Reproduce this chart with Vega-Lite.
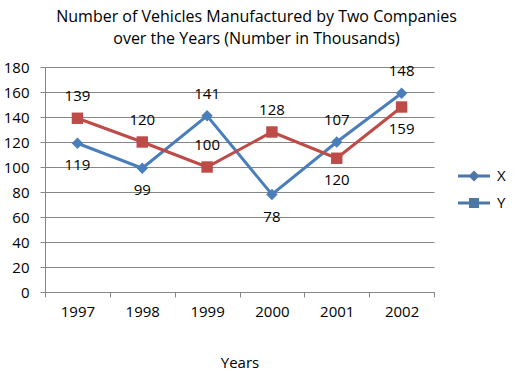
{
  "$schema": "https://vega.github.io/schema/vega-lite/v6.json",
  "width": 389,
  "height": 225,
  "autosize": {"type": "none"},
  "padding": {"left": 45, "top": 67, "right": 82, "bottom": 90},
  "background": "white",
  "config": {
    "font": "Open Sans",
    "view": {"stroke": null},
    "title": {"fontSize": 16, "fontWeight": "normal", "color": "#000000", "lineHeight": 22, "font": "Open Sans"}
  },
  "title": {
    "text": ["Number of Vehicles Manufactured by Two Companies", "over the Years (Number in Thousands)"],
    "anchor": "middle",
    "dx": 17,
    "offset": 13
  },
  "datasets": {
    "series": [
      {"year": "1997", "company": "X", "value": 119},
      {"year": "1998", "company": "X", "value": 99},
      {"year": "1999", "company": "X", "value": 141},
      {"year": "2000", "company": "X", "value": 78},
      {"year": "2001", "company": "X", "value": 120},
      {"year": "2002", "company": "X", "value": 159},
      {"year": "1997", "company": "Y", "value": 139},
      {"year": "1998", "company": "Y", "value": 120},
      {"year": "1999", "company": "Y", "value": 100},
      {"year": "2000", "company": "Y", "value": 128},
      {"year": "2001", "company": "Y", "value": 107},
      {"year": "2002", "company": "Y", "value": 148}
    ],
    "labels": [
      {"year": "1997", "label": "139", "value": 139, "pos": "above"},
      {"year": "1997", "label": "119", "value": 119, "pos": "below"},
      {"year": "1998", "label": "120", "value": 120, "pos": "above"},
      {"year": "1998", "label": "99", "value": 99, "pos": "below"},
      {"year": "1999", "label": "141", "value": 141, "pos": "above"},
      {"year": "1999", "label": "100", "value": 100, "pos": "above"},
      {"year": "2000", "label": "128", "value": 128, "pos": "above"},
      {"year": "2000", "label": "78", "value": 78, "pos": "below"},
      {"year": "2001", "label": "107", "value": 120, "pos": "above"},
      {"year": "2001", "label": "120", "value": 107, "pos": "below"},
      {"year": "2002", "label": "148", "value": 159, "pos": "above"},
      {"year": "2002", "label": "159", "value": 148, "pos": "below"}
    ]
  },
  "encoding": {
    "x": {
      "field": "year",
      "type": "ordinal",
      "scale": {"paddingInner": 0, "paddingOuter": 0},
      "axis": {
        "title": "Years",
        "labelAngle": 0,
        "labelFontSize": 15,
        "labelColor": "#000000",
        "labelPadding": 7,
        "tickBand": "extent",
        "tickSize": 5,
        "tickColor": "#868686",
        "domainColor": "#868686",
        "titleFontSize": 15,
        "titleFontWeight": "normal",
        "titleColor": "#000000",
        "titlePadding": 36,
        "grid": false
      }
    },
    "y": {
      "field": "value",
      "type": "quantitative",
      "scale": {"domain": [0, 180], "nice": false},
      "axis": {
        "title": null,
        "values": [0, 20, 40, 60, 80, 100, 120, 140, 160, 180],
        "tickCount": 10,
        "labelOverlap": false,
        "labelFontSize": 15,
        "labelColor": "#000000",
        "labelPadding": 11,
        "tickSize": 5,
        "tickColor": "#868686",
        "domainColor": "#868686",
        "gridColor": "#868686",
        "gridOpacity": 1
      }
    }
  },
  "layer": [
    {
      "data": {"name": "series"},
      "mark": {"type": "line", "strokeWidth": 3},
      "encoding": {
        "color": {
          "field": "company",
          "type": "nominal",
          "scale": {"domain": ["X", "Y"], "range": ["#4a7ebb", "#be4b48"]},
          "legend": null
        }
      }
    },
    {
      "data": {"name": "series"},
      "mark": {"type": "point", "filled": true, "opacity": 1, "size": 130},
      "encoding": {
        "color": {"field": "company", "type": "nominal", "legend": null},
        "shape": {
          "field": "company",
          "type": "nominal",
          "scale": {"domain": ["X", "Y"], "range": ["diamond", "square"]},
          "legend": null
        }
      }
    },
    {
      "data": {"name": "labels"},
      "transform": [{"filter": "datum.pos === 'above'"}],
      "mark": {"type": "text", "fontSize": 15, "color": "#000000", "dy": -22, "baseline": "middle"},
      "encoding": {
        "text": {"field": "label"}
      }
    },
    {
      "data": {"name": "labels"},
      "transform": [{"filter": "datum.pos === 'below'"}],
      "mark": {"type": "text", "fontSize": 15, "color": "#000000", "dy": 22, "baseline": "middle"},
      "encoding": {
        "text": {"field": "label"}
      }
    },
    {
      "data": {"name": "series"},
      "mark": {"type": "point", "filled": true, "opacity": 0},
      "encoding": {
        "shape": {
          "field": "company",
          "type": "nominal",
          "scale": {
            "domain": ["X", "Y"],
            "range": [
              "M-1.6,-0.15H1.6V0.15H-1.6Z M0,-0.55L0.55,0L0,0.55L-0.55,0Z",
              "M-1.6,-0.15H1.6V0.15H-1.6Z M-0.5,-0.5H0.5V0.5H-0.5Z"
            ]
          },
          "legend": {
            "title": null,
            "orient": "none",
            "legendX": 419,
            "legendY": 99,
            "padding": 0,
            "symbolSize": 400,
            "symbolStrokeWidth": 0,
            "symbolOpacity": 1,
            "labelFontSize": 15,
            "labelColor": "#000000",
            "labelOffset": 13,
            "rowPadding": 9,
            "labelFont": "Open Sans",
            "encode": {
              "symbols": {
                "update": {
                  "fill": {"signal": "datum.value === 'X' ? '#4a7ebb' : '#be4b48'"},
                  "opacity": {"value": 1},
                  "fillOpacity": {"value": 1}
                }
              }
            }
          }
        }
      }
    }
  ],
  "resolve": {"scale": {"shape": "independent"}, "legend": {"shape": "independent"}}
}
